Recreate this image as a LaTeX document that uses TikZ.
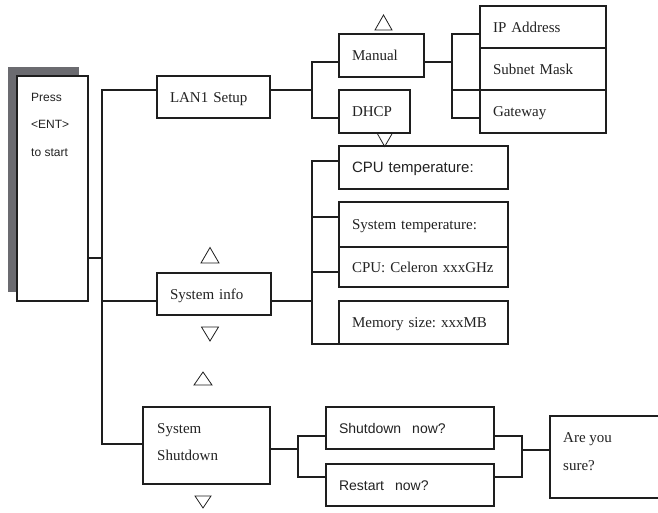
\documentclass[tikz,border=0pt]{standalone}
\usepackage{fontspec}
\setmainfont{Liberation Serif}
\setsansfont{Liberation Sans}
\definecolor{linec}{HTML}{1E1E1E}
\definecolor{txt}{HTML}{222222}
\definecolor{shadowc}{HTML}{6B6B70}
\begin{document}
\frenchspacing
\begin{tikzpicture}[x=1pt,y=-1pt,
  frame/.style={draw=linec, line width=1.6pt, anchor=north west, outer sep=0pt, inner sep=0pt},
  box/.style={frame, inner xsep=13pt, align=left, text height=10pt, text depth=0pt,
              font=\fontsize{15}{18}\selectfont, text=txt},
  sbox/.style={box, font=\sffamily\fontsize{15}{18}\selectfont},
  thickbox/.style={line width=2.3pt},
  multi/.style={anchor=north west, inner sep=0pt, align=left, text=txt},
  conn/.style={draw=linec, line width=1.4pt},
  tri/.style={draw=linec, line width=0.8pt}
]
\clip (0,0) rectangle (658,512);
\fill[white] (0,0) rectangle (658,512);

% start box
\fill[shadowc] (8,67) rectangle (79,292);
\node[frame, fill=white, line width=2.2pt, minimum width=71pt, minimum height=225pt] (press) at (17,76) {};
\node[multi, font=\sffamily\fontsize{12}{27.5}\selectfont] (presstxt) at (31,93) {Press\\<ENT>\\to start};

% level 1
\node[box, text width=87pt, minimum height=42pt] (lan) at (157,76) {LAN1 Setup};
\node[box, text width=88pt, minimum height=42pt] (sysinfo) at (157,273) {System info};
\node[frame, minimum width=127pt, minimum height=77pt] (shut) at (143,407) {};
\node[multi, font=\fontsize{15}{27}\selectfont] (shuttxt) at (157,423) {System\\Shutdown};

% LAN branch
\node[box, text width=59pt, minimum height=43pt] (manual) at (339,34) {Manual};
\node[box, text width=45pt, minimum height=43pt] (dhcp) at (339,90) {DHCP};
\node[box, text width=100pt, minimum height=42pt] (ip) at (480,6) {IP Address};
\node[box, text width=100pt, minimum height=42pt] (subnet) at (480,48) {Subnet Mask};
\node[box, text width=100pt, minimum height=43pt] (gw) at (480,90) {Gateway};

% info branch
\node[sbox, thickbox, text width=143pt, minimum height=43pt] (cput) at (339,146) {CPU temperature:};
\node[box, text width=143pt, minimum height=45pt] (syst) at (339,202) {System temperature:};
\node[box, text width=143pt, minimum height=40pt] (cel) at (339,247) {CPU: Celeron xxxGHz};
\node[box, thickbox, text width=143pt, minimum height=43pt] (mem) at (339,301) {Memory size: xxxMB};

% shutdown branch
\node[sbox, font=\sffamily\fontsize{14}{18}\selectfont, text width=142pt, minimum height=42pt] (sdn) at (326,407) {Shutdown\hspace{0.45em} now?};
\node[sbox, font=\sffamily\fontsize{14}{18}\selectfont, text width=142pt, minimum height=42pt] (rst) at (326,464) {Restart\hspace{0.45em} now?};
\node[frame, minimum width=140pt, minimum height=82pt] (sure) at (550,416) {};
\node[multi, font=\fontsize{15}{28}\selectfont] (suretxt) at (563,432) {Are you\\sure?};

% main trunk
\coordinate (ta) at (102,90);
\coordinate (tb) at (102,444);
\coordinate (pj) at (102,258);
\coordinate (sij) at (102,301);
\draw[conn] (pj -| press.east) -- (pj);
\draw[conn] (ta -| lan.west) -- (ta) -- (tb) -- (tb -| shut.west);
\draw[conn] (sij) -- (sij -| sysinfo.west);

% LAN connectors
\coordinate (lj) at (312,90);
\coordinate (lt) at (312,62);
\coordinate (lb) at (312,118);
\draw[conn] (lj -| lan.east) -- (lj);
\draw[conn] (lt -| manual.west) -- (lt) -- (lb) -- (lb -| dhcp.west);
\coordinate (mj) at (452,62);
\coordinate (mt) at (452,34);
\coordinate (mm) at (452,90);
\coordinate (mb) at (452,118);
\draw[conn] (mj -| manual.east) -- (mj);
\draw[conn] (mt -| ip.west) -- (mt) -- (mb) -- (mb -| gw.west);
\draw[conn] (mm) -- (mm -| gw.west);

% info connectors
\coordinate (it) at (312,161);
\coordinate (i2) at (312,217);
\coordinate (i3) at (312,272);
\coordinate (ij) at (312,301);
\coordinate (ib) at (312,344);
\draw[conn] (it -| cput.west) -- (it) -- (ib) -- (ib -| mem.west);
\draw[conn] (i2) -- (i2 -| syst.west);
\draw[conn] (i3) -- (i3 -| cel.west);
\draw[conn] (ij -| sysinfo.east) -- (ij);

% shutdown connectors
\coordinate (sj) at (298,449);
\coordinate (st) at (298,436);
\coordinate (sb) at (298,477);
\draw[conn] (sj -| shut.east) -- (sj);
\draw[conn] (st -| sdn.west) -- (st) -- (sb) -- (sb -| rst.west);
\coordinate (rt) at (522,436);
\coordinate (rb) at (522,477);
\coordinate (rj) at (522,450);
\draw[conn] (rt -| sdn.east) -- (rt) -- (rb) -- (rb -| rst.east);
\draw[conn] (rj) -- (rj -| sure.west);

% scroll triangles
\draw[tri] (375,30) -- (383.5,15) -- (392,30) -- cycle;
\draw[tri] (377,133) -- (392.5,133) -- (384.7,146.5) -- cycle;
\draw[tri] (201,263) -- (210,247.5) -- (219,263) -- cycle;
\draw[tri] (201.5,327) -- (218.5,327) -- (210,341) -- cycle;
\draw[tri] (194,385) -- (203,372) -- (212,385) -- cycle;
\draw[tri] (195,496) -- (211,496) -- (203,508) -- cycle;
\end{tikzpicture}
\end{document}
